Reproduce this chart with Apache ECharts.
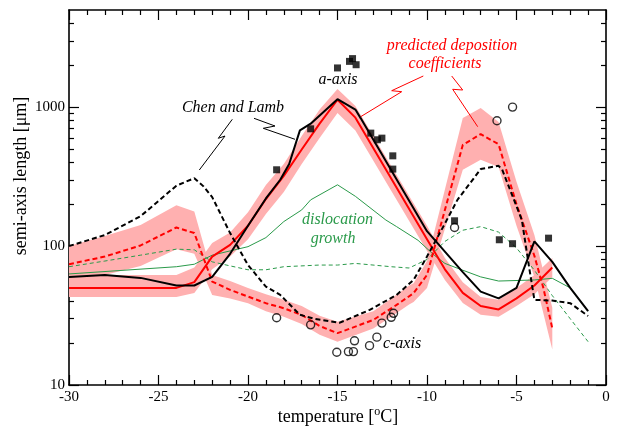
<!DOCTYPE html>
<html>
<head>
<meta charset="utf-8">
<script src="https://cdn.jsdelivr.net/npm/echarts@6/dist/echarts.min.js"></script>
<style>
  html, body { margin: 0; padding: 0; background: #fff; }
  #chart { width: 618px; height: 429px; }
</style>
</head>
<body>
<div id="chart"></div>
<script>
// Semi-axis length of ice crystals versus growth temperature.
// Each series is a list of [temperature (°C), length (µm)].

// Chen and Lamb, a-axis (solid) and c-axis (dashed)
const chenLambA = [[-30,60],[-28,62],[-26,59],[-24,52],[-23,52],[-22,60],[-21,88],[-20,140],[-19,220],[-18.2,300],[-17.7,390],[-17.1,680],[-16.5,760],[-15,1140],[-14,960],[-13.7,830],[-10,128],[-8,65],[-7,47],[-6,42],[-5,50],[-4,108],[-3,77],[-2,50],[-1,34]];
const chenLambC = [[-30,100],[-28,120],[-26,164],[-25,211],[-24,272],[-23,308],[-22.5,270],[-22,225],[-21,124],[-20,73],[-19,51],[-18.2,44.5],[-17.1,32],[-16.3,30],[-14.9,28],[-13.2,34.7],[-11.7,44.5],[-10.75,57],[-10,84],[-9,145],[-8.3,215],[-7,358],[-6,378],[-5.8,355],[-4.7,154],[-4.3,71],[-4,41],[-3,40.5],[-2,38.8],[-1,31.4]];

// Predicted deposition coefficients, a-axis (solid) and c-axis (dashed)
const predictedA = [[-30,50],[-24,50],[-23,55],[-22,84],[-21,102],[-20,140],[-19,218],[-18,320],[-17,495],[-16,760],[-15,1130],[-14,840],[-10,112],[-9,68],[-8,46],[-7,37],[-6,35],[-5,42],[-4,52],[-3,70]];
const predictedC = [[-30,74],[-28,84],[-26,101],[-24,136],[-23,124],[-22,55.5],[-21,48.4],[-20,43.3],[-19,38.8],[-18,35.7],[-17,31.9],[-16,26.6],[-15,23.6],[-13,29.4],[-11.7,37.7],[-10.75,45.8],[-10,62],[-8,534],[-7,640],[-6,540],[-5,200],[-4,85],[-3.5,50],[-3,25.6]];

// Uncertainty ranges of the predictions: [temperature, low, high]
const predictedABand = [[-30,43,62],[-24,43,62],[-23,46,70],[-22,68,105],[-21,84,125],[-20,112,175],[-19,170,275],[-18,245,390],[-17,390,620],[-16,600,960],[-15,906,1349],[-14,680,1020],[-10,92,140],[-9,57,82],[-8,39,55],[-7,32,43],[-6,31,41],[-5,37,50],[-4,45,62],[-3,60,82]];
const predictedCBand = [[-30,55,100],[-28,62,118],[-26,72,142],[-24,95,197],[-23,88,177],[-22,44.5,62],[-21,42,56],[-20,38.8,50],[-19,34,45],[-18,31,41],[-17,27.5,37],[-16,23,31.5],[-15,20.5,28.5],[-13,25.5,34],[-12,31,42],[-11,38,52],[-10.75,39.5,54],[-10,50,78],[-8,354,834],[-7,418,985],[-6,370,780],[-5,140,290],[-4,60,120],[-3,18,36]];

// Dislocation growth, a-axis (solid) and c-axis (dashed)
const dislocationA = [[-30,63],[-24,71],[-23,74],[-22,86],[-20,99],[-19,115],[-18,150],[-17,182],[-16.5,215],[-15,276],[-14,228],[-12.3,154],[-11.7,138],[-10.5,110],[-9.6,86],[-9,75],[-8,67],[-7,60],[-6,56],[-4,57],[-3,58.6],[-2,50],[-1,34]];
const dislocationC = [[-30,71],[-28,78],[-26,86],[-24,95],[-23,94],[-22,77],[-21,72],[-20,67.5],[-19,67.5],[-18,71],[-16,73],[-15,73],[-14,75],[-12,71],[-11,69.5],[-10,80],[-9,108],[-8,130],[-7,138],[-6,126],[-5,97],[-4,67],[-3,44],[-2,30],[-1,20.5]];

// Measured crystals
const measuredA = [[-18.4,354],[-16.5,698],[-15,1914],[-14.33,2134],[-14.16,2234],[-13.96,2019],[-13.14,650],[-12.77,582],[-12.52,598],[-11.91,446],[-11.91,358],[-8.46,152],[-5.96,111],[-5.22,104],[-3.21,114]];
const measuredC = [[-18.4,30.5],[-16.5,27.1],[-15.04,17.2],[-14.39,17.4],[-14.11,17.4],[-14.05,20.8],[-13.21,19.2],[-12.8,22.1],[-12.52,27.9],[-12.0,30.7],[-11.87,32.8],[-8.46,136],[-6.09,798],[-5.22,1000]];

// Axis ticks
const yMajorTicks = [10, 100, 1000];
const yMinorTicks = [20,30,40,50,60,70,80,90,200,300,400,500,600,700,800,900,2000,3000,4000];

const FONT = 'Liberation Serif, Times New Roman, serif';
const RED = '#ff0000';
const GREEN = '#2a9a4a';
const PINK = '#ffb0b0';

const chart = echarts.init(document.getElementById('chart'), null, { renderer: 'canvas' });

function bandSeries(band) {
  return {
    type: 'custom',
    coordinateSystem: 'cartesian2d',
    silent: true,
    z: 1,
    data: band,
    encode: { x: 0, y: [1, 2] },
    renderItem: function (params, api) {
      if (params.dataIndex !== 0) return null;
      const upper = band.map(d => api.coord([d[0], d[2]]));
      const lower = band.slice().reverse().map(d => api.coord([d[0], d[1]]));
      return { type: 'polygon', shape: { points: upper.concat(lower) }, style: { fill: PINK } };
    }
  };
}

function lineSeries(data, color, width, type, z) {
  return {
    type: 'line', data: data, symbol: 'none', silent: true, z: z,
    lineStyle: { color: color, width: width, type: type }
  };
}

const axisLine = { show: true, onZero: false, lineStyle: { color: '#000', width: 1.6 } };

function xAxisDef(pos, showLabel) {
  return {
    type: 'value', position: pos, min: -30, max: 0, interval: 5,
    axisLine: axisLine,
    axisTick: { show: true, inside: true, length: 10, lineStyle: { color: '#000', width: 1.2 } },
    minorTick: { show: true, splitNumber: 5, length: 5, lineStyle: { color: '#000', width: 1.2 } },
    axisLabel: { show: showLabel, color: '#000', fontFamily: FONT, fontSize: 15, margin: 5 },
    splitLine: { show: false }, minorSplitLine: { show: false }
  };
}

function yAxisDef(pos, ticks, len, showLabel, showLine) {
  return {
    type: 'log', logBase: 10, min: 10, max: 5000, position: pos,
    axisLine: Object.assign({}, axisLine, { show: showLine }),
    axisTick: { show: true, inside: true, length: len, customValues: ticks, lineStyle: { color: '#000', width: 1.2 } },
    axisLabel: {
      show: showLabel, customValues: yMajorTicks, color: '#000', fontFamily: FONT, fontSize: 15, margin: 4,
      formatter: v => String(Math.round(v))
    },
    splitLine: { show: false }
  };
}

const option = {
  animation: false,
  backgroundColor: '#fff',
  grid: { left: 69, right: 12, top: 10, bottom: 44, containLabel: false },
  xAxis: [xAxisDef('bottom', true), xAxisDef('top', false)],
  yAxis: [
    yAxisDef('left', yMajorTicks, 10, true, true),
    yAxisDef('left', yMinorTicks, 5, false, false),
    yAxisDef('right', yMajorTicks, 10, false, true),
    yAxisDef('right', yMinorTicks, 5, false, false)
  ],
  series: [
    bandSeries(predictedCBand),
    bandSeries(predictedABand),
    lineSeries(dislocationA, GREEN, 1, 'solid', 3),
    lineSeries(dislocationC, GREEN, 1, [4, 3], 3),
    lineSeries(predictedA, RED, 2, 'solid', 4),
    lineSeries(predictedC, RED, 2, [5, 3], 4),
    lineSeries(chenLambA, '#000', 2, 'solid', 5),
    lineSeries(chenLambC, '#000', 2, [5, 3], 5),
    {
      type: 'scatter', data: measuredA, symbol: 'rect', symbolSize: 7, z: 6, silent: true,
      itemStyle: { color: '#000' }
    },
    {
      type: 'scatter', data: measuredC, symbol: 'circle', symbolSize: 8, z: 6, silent: true,
      itemStyle: { color: 'rgba(0,0,0,0)', borderColor: '#000', borderWidth: 1.4 }
    }
  ],
  graphic: [
    // axis titles
    { type: 'text', x: 21, y: 176, rotation: Math.PI / 2,
      style: { text: 'semi-axis length [μm]', font: '18px ' + FONT, fill: '#000', align: 'center', verticalAlign: 'middle' } },
    { type: 'text', x: 338, y: 417,
      style: { text: 'temperature [{sup|o}C]', font: '18px ' + FONT, fill: '#000', align: 'center', verticalAlign: 'middle',
        rich: { sup: { font: '12px ' + FONT, fill: '#000', verticalAlign: 'top', padding: [0, 0, 10, 0] } } } },
    // annotations
    { type: 'text', x: 233, y: 108, z: 10,
      style: { text: 'Chen and Lamb', font: 'italic 16px ' + FONT, fill: '#000', align: 'center', verticalAlign: 'middle' } },
    { type: 'polyline', z: 10, shape: { points: [[232.3,119.3],[218.3,138.3],[225,136],[199.3,170]] },
      style: { stroke: '#000', lineWidth: 1, fill: null } },
    { type: 'polyline', z: 10, shape: { points: [[254,118.3],[275,126],[263.3,128.3],[295,139.3]] },
      style: { stroke: '#000', lineWidth: 1, fill: null } },
    { type: 'text', x: 338, y: 80, z: 10,
      style: { text: 'a-axis', font: 'italic 16px ' + FONT, fill: '#000', align: 'center', verticalAlign: 'middle' } },
    { type: 'text', x: 452, y: 46, z: 10,
      style: { text: 'predicted deposition', font: 'italic 16px ' + FONT, fill: RED, align: 'center', verticalAlign: 'middle' } },
    { type: 'text', x: 445, y: 64, z: 10,
      style: { text: 'coefficients', font: 'italic 16px ' + FONT, fill: RED, align: 'center', verticalAlign: 'middle' } },
    { type: 'polyline', z: 10, shape: { points: [[423.3,76],[391.7,90.7],[401.7,91.7],[360.7,116.7]] },
      style: { stroke: RED, lineWidth: 1, fill: null } },
    { type: 'polyline', z: 10, shape: { points: [[451.7,76],[462.7,90],[452.7,89.3],[477.7,126.7]] },
      style: { stroke: RED, lineWidth: 1, fill: null } },
    { type: 'text', x: 337.5, y: 220, z: 10,
      style: { text: 'dislocation', font: 'italic 16px ' + FONT, fill: GREEN, align: 'center', verticalAlign: 'middle' } },
    { type: 'text', x: 333, y: 238.5, z: 10,
      style: { text: 'growth', font: 'italic 16px ' + FONT, fill: GREEN, align: 'center', verticalAlign: 'middle' } },
    { type: 'text', x: 402, y: 344, z: 10,
      style: { text: 'c-axis', font: 'italic 16px ' + FONT, fill: '#000', align: 'center', verticalAlign: 'middle' } }
  ]
};

chart.setOption(option);
</script>
</body>
</html>
